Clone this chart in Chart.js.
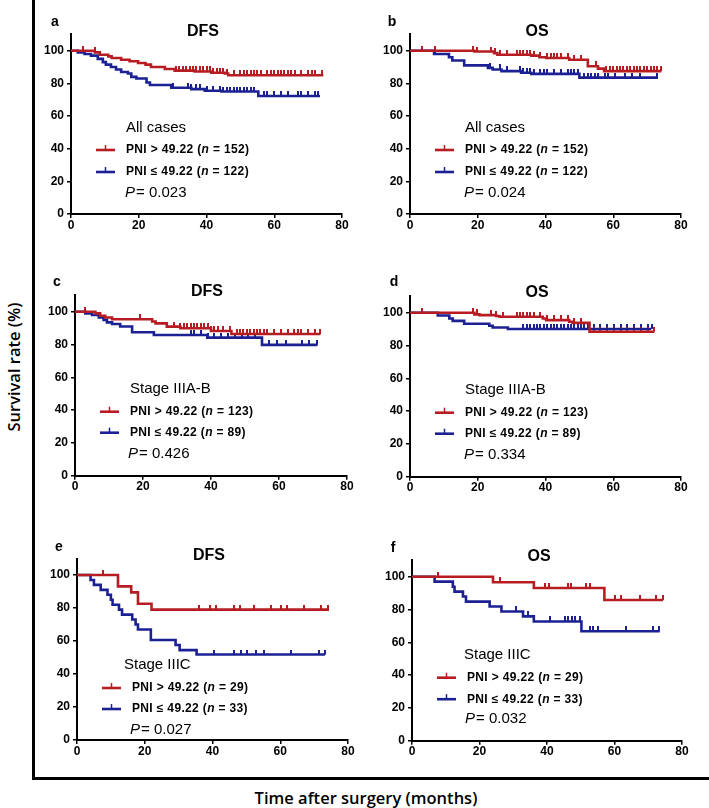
<!DOCTYPE html>
<html lang="en">
<head>
<meta charset="UTF-8">
<title>PNI - survival curves</title>
<script src="https://cdn.jsdelivr.net/npm/chart.js"></script>
<style>
  body { margin: 0; background: #fff; }
  #fig { position: relative; width: 709px; height: 808px; overflow: hidden; }
  #fig canvas { position: absolute; left: 0; top: 0; }
  .frame-v { position: absolute; left: 32px; top: 0; width: 3px; height: 780px; background: #000; }
  .frame-h { position: absolute; left: 32px; top: 777px; width: 677px; height: 3px; background: #000; }
  .ytitle, .xtitle { position: absolute; font-family: "Open Sans", sans-serif; font-weight: 600; font-size: 16.5px; color: #000; white-space: nowrap; }
  .ytitle { left: 13px; top: 367px; transform: translate(-50%, -50%) rotate(-90deg); }
  .xtitle { left: 366px; top: 797px; transform: translate(-50%, -50%); }
</style>
</head>
<body>
<div id="fig">
  <div class="frame-v"></div>
  <div class="frame-h"></div>
  <div class="ytitle">Survival rate (%)</div>
  <div class="xtitle">Time after surgery (months)</div>
</div>

<script>
  // groups
  const groupHigh = 'PNI > 49.22';
  const groupLow = 'PNI \u2264 49.22';
  const xTicks = [0, 20, 40, 60, 80];
  const yTicks = [0, 20, 40, 60, 80, 100];

  // a - DFS, all cases
  const aHighT = [0, 7, 8.5, 11, 12, 14.8, 17.3, 19.8, 22, 23.6, 27.7, 30.6, 36.5, 41.4, 45.4, 46.4, 74.5];
  const aHighS = [100, 99, 97.5, 96.5, 95.5, 94.5, 93.5, 92.5, 91.5, 90, 88.8, 87.8, 87.3, 86.5, 86, 85, 85];
  const aHighCens = [3.5, 7, 31, 32, 33, 34, 35, 36, 37, 38, 39, 40, 41, 42, 43, 44, 45, 46, 48, 50, 51, 52, 53, 54, 55, 56, 58, 59, 60, 61, 62, 63, 64, 65, 66, 68, 70, 71, 72, 74];
  const aLowT = [0, 2, 4, 5.9, 7.9, 9.4, 10.3, 11.8, 13.3, 14.8, 16.8, 17.8, 19.3, 22.3, 23.3, 29.6, 35.5, 39.5, 44.4, 55.3, 73.5];
  const aLowS = [100, 99, 98, 97, 95, 93, 91.5, 90, 88.5, 87, 86, 84, 83, 80.5, 79, 77.3, 76.5, 75.5, 75, 72.3, 72.3];
  const aLowCens = [30, 34.5, 35.5, 37, 38, 40, 42, 44, 45, 46, 47, 48, 49, 50, 51, 52, 53, 54, 57, 58, 60, 62, 64, 67, 68, 70, 72, 73];

  // b - OS, all cases
  const bHighT = [0, 19, 24.8, 25.8, 35.8, 38.2, 40.2, 47, 52.5, 55.5, 57.3, 74.2];
  const bHighS = [100, 99.5, 98.5, 97.5, 97, 96, 95.5, 94.5, 90.5, 89, 87.5, 87.5];
  const bHighCens = [3.4, 7.4, 18.7, 19.7, 24, 25, 26.5, 28.5, 31.5, 32.5, 33.5, 34.5, 35.5, 36.5, 38.5, 40.5, 41.5, 42.5, 43.5, 44.5, 46.5, 48.5, 50.5, 52.5, 55, 58, 59, 60, 61, 62, 63, 64, 65, 66, 67, 68, 69, 70, 71, 72, 73, 74];
  const bLowT = [0, 7.1, 11.5, 12.5, 16, 23, 24.4, 27, 32.8, 35.8, 50, 73.2];
  const bLowS = [100, 98, 96, 94, 91, 89.5, 88.5, 87.5, 86.5, 85.8, 83.5, 83.5];
  const bLowCens = [7.4, 23.6, 26.5, 28.5, 32.5, 33.5, 34.5, 35.5, 36.5, 38.5, 39.5, 40.5, 42.5, 44.5, 46.5, 47.5, 48.5, 49.5, 51.5, 52.5, 53.5, 54.5, 55.5, 57.5, 58.5, 60.5, 63.5, 65.5, 68, 73];

  // c - DFS, stage IIIA-B
  const cHighT = [0, 6, 7.4, 8.9, 10.9, 22.7, 23.7, 27, 31, 40, 46, 72.2];
  const cHighS = [100, 99, 97.5, 96.5, 95.4, 94, 92.9, 90.9, 89.9, 88.2, 86.4, 86.4];
  const cHighCens = [3, 19, 29, 31, 32, 33, 34, 35, 36, 37, 38, 39, 40, 41, 42, 43.5, 45.5, 47.5, 48.5, 49.5, 50.5, 51.5, 52.5, 53.5, 54.5, 55.5, 56.5, 58.5, 60.5, 62.5, 64.5, 65.5, 66.5, 68.5, 70.5, 72];
  const cLowT = [0, 3, 5, 7, 8.4, 9.4, 10.9, 13.3, 16.8, 23.2, 38.9, 55, 71.3];
  const cLowS = [100, 99, 98, 96.5, 95, 93.5, 92.5, 91, 87.5, 85.8, 84.2, 79.8, 79.8];
  const cLowCens = [34, 35, 37, 39, 41, 43, 45, 47, 49, 51, 53, 57, 59.5, 62, 66.9, 68.8, 71.3];

  // d - OS, stage IIIA-B
  const dHighT = [0, 19, 20.5, 25.4, 26.4, 39.2, 40.2, 47, 48, 53, 72.1];
  const dHighS = [100, 99, 98.5, 98, 97.5, 96.5, 95.5, 94.5, 93.8, 88.4, 88.4];
  const dHighCens = [3.4, 18.7, 19.7, 24, 25.5, 27.5, 31.5, 32.5, 33.5, 34.5, 35.5, 36.5, 38.5, 40.5, 42.5, 44.5, 46.5, 48.5, 50.5, 54.2, 56.2, 58.2, 60.2, 62.2, 64.2, 66.2, 68.2, 70.2, 72];
  const dLowT = [0, 8.2, 11.6, 12.6, 16, 23.4, 24.4, 28.9, 71.2];
  const dLowS = [100, 98.3, 96.5, 95, 93.3, 92, 91, 90.1, 90.1];
  const dLowCens = [33.5, 34.5, 35.5, 36.5, 37.5, 38.5, 39.5, 40.5, 41.5, 42.5, 43.5, 44.5, 45.5, 46.5, 47.5, 48.5, 49.5, 50.5, 51.5, 52.5, 54.2, 56.2, 58.2, 60.2, 62.2, 64.2, 66.2, 68.2, 70.2, 71.5];

  // e - DFS, stage IIIC
  const eHighT = [0, 12.1, 16, 18, 22, 74.4];
  const eHighS = [100, 93.1, 89.5, 82.6, 79, 79];
  const eHighCens = [7.8, 36, 39.3, 41, 46.3, 48.1, 52.3, 57.2, 60.1, 62.1, 67, 71.9, 74];
  const eLowT = [0, 4, 5, 7, 9, 10, 10.5, 12.4, 13.3, 16.3, 17.3, 18, 21.8, 29.1, 30.3, 35.3, 73.2];
  const eLowS = [100, 97, 94, 91, 88, 85, 82, 79, 76, 73, 70, 67, 60.6, 57.6, 54.5, 51.8, 51.8];
  const eLowCens = [40.4, 46.3, 48.3, 50.3, 52.7, 55.2, 63.1, 71.4, 73.1];

  // f - OS, stage IIIC
  const fHighT = [0, 24, 36.1, 57, 74.4];
  const fHighS = [100, 96.6, 93.1, 85.8, 85.8];
  const fHighCens = [7.7, 26, 39.3, 40.7, 46.2, 47.2, 51.7, 52.7, 60, 62, 67.5, 72.4, 74.4];
  const fLowT = [0, 6.7, 12.1, 12.6, 15.1, 16, 23, 26.5, 32.9, 36.1, 50.2, 73.4];
  const fLowS = [100, 97, 93.9, 90.9, 87.9, 84.8, 81.8, 78.8, 75.8, 72.7, 66.7, 66.7];
  const fLowCens = [30.9, 34.4, 40.8, 45.3, 46.3, 47.3, 48.3, 49.8, 52.7, 53.7, 55.2, 63.5, 71.4, 73.1];

  const panels = [
    { letter: 'a', title: 'DFS', subgroup: 'All cases', nHigh: 152, nLow: 122, p: '0.023', hT: aHighT, hS: aHighS, hC: aHighCens, lT: aLowT, lS: aLowS, lC: aLowCens },
    { letter: 'b', title: 'OS', subgroup: 'All cases', nHigh: 152, nLow: 122, p: '0.024', hT: bHighT, hS: bHighS, hC: bHighCens, lT: bLowT, lS: bLowS, lC: bLowCens },
    { letter: 'c', title: 'DFS', subgroup: 'Stage IIIA-B', nHigh: 123, nLow: 89, p: '0.426', hT: cHighT, hS: cHighS, hC: cHighCens, lT: cLowT, lS: cLowS, lC: cLowCens },
    { letter: 'd', title: 'OS', subgroup: 'Stage IIIA-B', nHigh: 123, nLow: 89, p: '0.334', hT: dHighT, hS: dHighS, hC: dHighCens, lT: dLowT, lS: dLowS, lC: dLowCens },
    { letter: 'e', title: 'DFS', subgroup: 'Stage IIIC', nHigh: 29, nLow: 33, p: '0.027', hT: eHighT, hS: eHighS, hC: eHighCens, lT: eLowT, lS: eLowS, lC: eLowCens },
    { letter: 'f', title: 'OS', subgroup: 'Stage IIIC', nHigh: 29, nLow: 33, p: '0.032', hT: fHighT, hS: fHighS, hC: fHighCens, lT: fLowT, lS: fLowS, lC: fLowCens }
  ];

  // where each plot sits on the page (pixels)
  const layout = [
    { left: 71, right: 342, y0: 214, y100: 50.7, letterXY: [55, 22], titleXY: [203, 32], head: [55, -86], e1: -64, e2: -42, pv: [54, -21] },
    { left: 410, right: 681, y0: 214, y100: 50.7, letterXY: [392, 22], titleXY: [537, 32], head: [55, -86], e1: -64, e2: -42, pv: [54, -21] },
    { left: 75, right: 347, y0: 475.7, y100: 311.7, letterXY: [57, 282], titleXY: [207, 292], head: [55, -87], e1: -64, e2: -43, pv: [53, -22] },
    { left: 410, right: 681, y0: 476.7, y100: 312.7, letterXY: [394, 282], titleXY: [537, 293], head: [55, -87], e1: -64, e2: -43, pv: [54, -22] },
    { left: 77, right: 348, y0: 740, y100: 575, letterXY: [59, 547], titleXY: [209, 556], head: [47, -75], e1: -52, e2: -31, pv: [53, -10] },
    { left: 412, right: 682, y0: 740.7, y100: 576.7, letterXY: [393, 548], titleXY: [539, 557], head: [52, -86], e1: -63, e2: -41.5, pv: [53, -21.5] }
  ];

  const RED = '#b71c22';
  const BLUE = '#1b2092';
  const W = 709, H = 808;
  const Y_AXIS_W = 30, X_AXIS_H = 20;

  function survAt(ts, ss, t) {
    let s = ss[0];
    for (let i = 0; i < ts.length; i++) {
      if (ts[i] <= t) s = ss[i];
    }
    return s;
  }

  // little upward tick used for censored cases
  function censorMark(color) {
    const c = document.createElement('canvas');
    c.width = 2; c.height = 10;
    const g = c.getContext('2d');
    g.fillStyle = color;
    g.fillRect(0, 0, 2, 5);
    return c;
  }
  const markRed = censorMark(RED);
  const markBlue = censorMark(BLUE);

  function makeOverlay(p) {
    return {
      id: 'overlay',
      afterDraw(chart, args, opts) {
        const L = opts.lay;
        const ctx = chart.ctx;
        const left = chart.chartArea.left;
        const y0 = chart.scales.y.getPixelForValue(0);
        ctx.save();
        ctx.fillStyle = '#000';
        ctx.textBaseline = 'middle';
        ctx.textAlign = 'center';
        ctx.font = 'bold 14px Arial';
        ctx.fillText(p.letter, L.letterXY[0], L.letterXY[1]);
        ctx.font = 'bold 16px Arial';
        ctx.fillText(p.title, L.titleXY[0], L.titleXY[1]);

        ctx.textAlign = 'left';
        ctx.font = '15px Arial';
        ctx.fillText(p.subgroup, left + L.head[0], y0 + L.head[1]);

        const entry = (y, color, label, n) => {
          ctx.strokeStyle = color;
          ctx.lineWidth = 2.6;
          ctx.beginPath();
          ctx.moveTo(left + 25, y);
          ctx.lineTo(left + 44, y);
          ctx.stroke();
          ctx.lineWidth = 1.5;
          ctx.beginPath();
          ctx.moveTo(left + 34.5, y);
          ctx.lineTo(left + 34.5, y - 5);
          ctx.stroke();
          let x = left + 55;
          ctx.fillStyle = '#000';
          ctx.letterSpacing = '0.35px';
          ctx.font = 'bold 12px Arial';
          const s1 = label + ' (';
          ctx.fillText(s1, x, y);
          x += ctx.measureText(s1).width;
          ctx.font = 'italic bold 12px Arial';
          ctx.fillText('n', x, y);
          x += ctx.measureText('n').width;
          ctx.font = 'bold 12px Arial';
          ctx.fillText(' = ' + n + ')', x, y);
          ctx.letterSpacing = '0px';
        };
        entry(y0 + L.e1, RED, groupHigh, p.nHigh);
        entry(y0 + L.e2, BLUE, groupLow, p.nLow);

        let px = left + L.pv[0];
        const py = y0 + L.pv[1];
        ctx.font = 'italic 15px Arial';
        ctx.fillText('P', px, py);
        px += ctx.measureText('P').width + 1;
        ctx.font = '15px Arial';
        ctx.fillText('= ' + p.p, px, py);
        ctx.restore();
      }
    };
  }

  panels.forEach((p, i) => {
    const L = layout[i];
    const canvas = document.createElement('canvas');
    canvas.width = W;
    canvas.height = H;
    canvas.style.width = W + 'px';
    canvas.style.height = H + 'px';
    document.getElementById('fig').appendChild(canvas);

    const top = L.y0 - (L.y0 - L.y100) * 1.1;
    const curve = (ts, ss) => ts.map((t, k) => ({ x: t, y: ss[k] }));
    const cens = (cs, ts, ss) => cs.map(t => ({ x: t, y: survAt(ts, ss, t) }));

    new Chart(canvas, {
      type: 'line',
      data: {
        datasets: [
          { label: groupHigh, data: curve(p.hT, p.hS), stepped: 'before', borderColor: RED, borderWidth: 2.6, pointRadius: 0, fill: false },
          { label: groupLow, data: curve(p.lT, p.lS), stepped: 'before', borderColor: BLUE, borderWidth: 2.6, pointRadius: 0, fill: false },
          { type: 'scatter', data: cens(p.hC, p.hT, p.hS), pointStyle: markRed, pointRadius: 3, showLine: false },
          { type: 'scatter', data: cens(p.lC, p.lT, p.lS), pointStyle: markBlue, pointRadius: 3, showLine: false }
        ]
      },
      options: {
        responsive: false,
        animation: false,
        events: [],
        layout: {
          padding: {
            left: L.left - Y_AXIS_W,
            right: W - L.right,
            top: top,
            bottom: H - L.y0 - X_AXIS_H
          }
        },
        plugins: {
          legend: { display: false },
          tooltip: { enabled: false },
          overlay: { lay: L }
        },
        scales: {
          x: {
            type: 'linear',
            min: 0,
            max: 80,
            afterBuildTicks: s => { s.ticks = xTicks.map(v => ({ value: v })); },
            afterFit: s => { s.height = X_AXIS_H; },
            grid: { display: true, drawOnChartArea: false, drawTicks: true, tickLength: 4, color: '#000', lineWidth: 1.5 },
            border: { display: true, color: '#000', width: 2 },
            ticks: { color: '#000', font: { family: 'Arial', size: 12, weight: 'bold' }, padding: 0, maxRotation: 0 }
          },
          y: {
            type: 'linear',
            min: 0,
            max: 110,
            afterBuildTicks: s => { s.ticks = yTicks.map(v => ({ value: v })); },
            afterFit: s => { s.width = Y_AXIS_W; },
            grid: { display: true, drawOnChartArea: false, drawTicks: true, tickLength: 4, color: '#000', lineWidth: 1.5 },
            border: { display: true, color: '#000', width: 2 },
            ticks: { color: '#000', font: { family: 'Arial', size: 12, weight: 'bold' }, padding: 3 }
          }
        }
      },
      plugins: [makeOverlay(p)]
    });
  });
</script>
</body>
</html>
